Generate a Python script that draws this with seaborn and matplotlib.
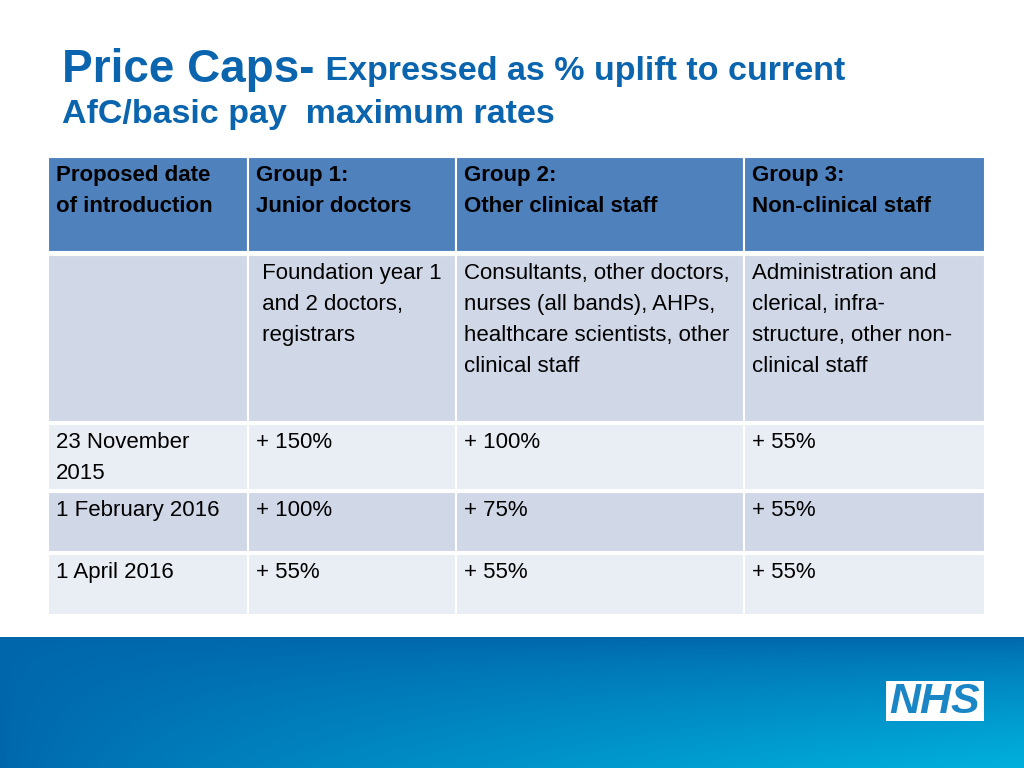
import numpy as np
import matplotlib
matplotlib.use("Agg")
import matplotlib.pyplot as plt
from matplotlib.patches import Rectangle
import seaborn as sns

# ---- data ----
title_main = "Price Caps-"
title_sub1 = " Expressed as % uplift to current"
title_sub2 = "AfC/basic pay  maximum rates"

header = ["Proposed date\nof introduction", "Group 1:\nJunior doctors",
          "Group 2:\nOther clinical staff", "Group 3:\nNon-clinical staff"]
descriptions = ["", " Foundation year 1\n and 2 doctors,\n registrars",
                "Consultants, other doctors,\nnurses (all bands), AHPs,\nhealthcare scientists, other\nclinical staff",
                "Administration and\nclerical, infra-\nstructure, other non-\nclinical staff"]
dates = ["23 November\n2015", "1 February 2016", "1 April 2016"]
group1 = ["+ 150%", "+ 100%", "+ 55%"]
group2 = ["+ 100%", "+ 75%", "+ 55%"]
group3 = ["+ 55%", "+ 55%", "+ 55%"]

sns.set_theme(style="white")
plt.rcParams['font.family'] = ['Liberation Sans', 'DejaVu Sans']

fig = plt.figure(figsize=(10.24, 7.68), dpi=100)
ax = fig.add_axes([0, 0, 1, 1])
ax.set_xlim(0, 1024)
ax.set_ylim(768, 0)
ax.axis('off')

# bottom gradient band
W, H = 256, 60
xx, yy = np.meshgrid(np.linspace(0, 1, W), np.linspace(0, 1, H))
t = np.clip((yy ** 0.7) * (xx ** 0.7), 0, 1)
c0 = np.array([0x00, 0x66, 0xAC]) / 255
c1 = np.array([0x00, 0xB0, 0xDD]) / 255
img = c0[None, None, :] * (1 - t[..., None]) + c1[None, None, :] * t[..., None]
ax.imshow(img, extent=[0, 1024, 768, 637], aspect='auto', zorder=0, interpolation='bilinear')

# NHS logo
ax.add_patch(Rectangle((886, 681), 98, 40, facecolor='white', edgecolor='none', zorder=2))
ax.text(935, 702, "NHS", color='#1A86C6', fontsize=31, fontweight='bold', fontstyle='italic',
        ha='center', va='center', zorder=3)

# title
blue = '#0B65AE'
ax.text(62, 82, title_main, color=blue, fontsize=33, fontweight='bold', va='baseline', ha='left')
ax.text(316, 80, title_sub1, color=blue, fontsize=24.5, fontweight='bold', va='baseline', ha='left')
ax.text(62, 123, title_sub2, color=blue, fontsize=24.5, fontweight='bold', va='baseline', ha='left')

# table
col_edges = [48, 248, 456, 744, 985]
row_edges = [(157, 252), (255, 422), (424, 490), (492, 552), (554, 615)]
row_colors = ['#4F81BD', '#D0D8E8', '#E9EDF4', '#D0D8E8', '#E9EDF4']

rows = [header, descriptions] + [[d, a, b, c] for d, a, b, c in zip(dates, group1, group2, group3)]
text_x_pad = 8
lh = 31
fs = 16

for r, ((y0, y1), rowvals) in enumerate(zip(row_edges, rows)):
    for c in range(4):
        x0, x1 = col_edges[c], col_edges[c + 1]
        ax.add_patch(Rectangle((x0, y0), x1 - x0, y1 - y0, facecolor=row_colors[r],
                               edgecolor='white', linewidth=1.5, zorder=1))
        txt = rowvals[c]
        weight = 'bold' if r == 0 else 'normal'
        base = y0 + 24
        for i, line in enumerate(txt.split("\n")):
            ax.text(x0 + text_x_pad, base + i * lh, line, fontsize=fs, fontweight=weight,
                    color='black', va='baseline', ha='left', zorder=3)

fig.savefig("out.png", dpi=100)
